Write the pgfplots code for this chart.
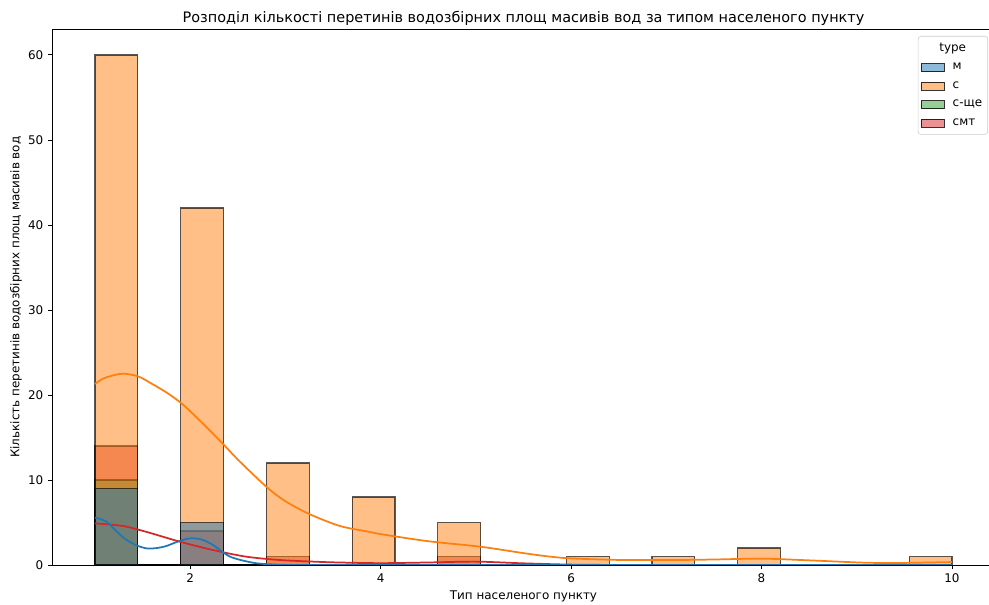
\documentclass[border=0pt]{standalone}
\usepackage{fontspec}
\setmainfont{DejaVu Sans}
\usepackage{pgfplots}
\pgfplotsset{compat=1.18}
\usepackage{pgfplotstable}

\definecolor{colM}{HTML}{1F77B4}
\definecolor{colC}{HTML}{FF7F0E}
\definecolor{colS}{HTML}{2CA02C}
\definecolor{colR}{HTML}{D62728}

% histogram bins (left edge) and counts per type; last row = right edge
\pgfplotstableread{
x c m s r
1.00 60 9 10 14
1.45 0 0 0 0
1.90 42 5 0 4
2.35 0 0 0 0
2.80 12 0 0 1
3.25 0 0 0 0
3.70 8 0 0 0
4.15 0 0 0 0
4.60 5 0 0 1
5.05 0 0 0 0
5.50 0 0 0 0
5.95 1 0 0 0
6.40 0 0 0 0
6.85 1 0 0 0
7.30 0 0 0 0
7.75 2 0 0 0
8.20 0 0 0 0
8.65 0 0 0 0
9.10 0 0 0 0
9.55 1 0 0 0
10.00 1 0 0 0
}\hist

\pgfplotstableread{
x y
1.00 21.3
1.10 22.0
1.28 22.5
1.45 22.2
1.60 21.3
1.75 20.3
1.91 19.0
2.10 17.0
2.34 14.3
2.50 12.4
2.80 9.2
3.00 7.5
3.25 6.0
3.57 4.6
3.88 3.9
4.02 3.6
4.50 2.8
5.05 2.15
5.50 1.4
5.77 1.0
6.00 0.78
6.50 0.6
7.09 0.59
7.50 0.65
8.00 0.75
8.50 0.55
9.10 0.27
9.50 0.25
10.00 0.35
}\kdec

\pgfplotstableread{
x y
1.00 5.57
1.12 5.1
1.29 3.3
1.42 2.4
1.54 1.96
1.65 2.0
1.75 2.24
1.88 2.8
2.00 3.14
2.12 3.0
2.24 2.35
2.42 0.98
2.66 0.27
2.85 0.08
3.10 0.01
4.00 0
10.00 0
}\kdem

\pgfplotstableread{
x y
1.00 4.9
1.29 4.6
1.54 3.9
1.89 2.75
2.24 1.76
2.59 0.98
2.94 0.59
3.29 0.4
3.56 0.3
4.00 0.22
4.50 0.3
5.00 0.4
5.50 0.2
6.00 0.05
6.50 0.01
7.00 0
10.00 0
}\kder

\begin{document}
\begin{tikzpicture}[font=\fontsize{8.6}{10.3}\selectfont]
\begin{axis}[
  at={(0,0)}, anchor=south west,
  scale only axis, width=678.7pt, height=385.6pt,
  xmin=0.55, xmax=10.45, ymin=0, ymax=63,
  axis on top,
  xtick={2,4,6,8,10}, ytick={0,10,...,60},
  tick pos=left, tick align=outside, major tick length=2.9pt,
  every tick/.style={black, line width=0.66pt},
  axis line style={line width=0.66pt},
  /pgf/number format/assume math mode=true,
  ticklabel style={font=\fontsize{8.6}{10.3}\selectfont},
  title={Розподіл кількості перетинів водозбірних площ масивів вод за типом населеного пункту},
  title style={at={(axis description cs:0.5,1)}, anchor=center, yshift=2pt, font=\fontsize{10.4}{12.5}\selectfont},
  xlabel={Тип населеного пункту},
  xlabel style={at={([yshift=-22.3pt]axis description cs:0.5,0)}, anchor=center},
  ylabel={Кількість перетинів водозбірних площ масивів вод},
  ylabel style={at={([xshift=-26pt]axis description cs:0,0.5)}, anchor=center},
  legend style={at={(0.9928,0.9878)}, anchor=north east, draw=black!20, rounded corners=2pt,
    font=\fontsize{8.6}{10.3}\selectfont, cells={anchor=west}, row sep=3pt, inner xsep=2pt, inner ysep=3pt},
  legend image code/.code={\draw[#1, sharp corners] (0pt,-2.9pt) rectangle (16.5pt,2.9pt); \path[draw=none, fill=none] (0pt,-0.1pt) rectangle (20.5pt,0.1pt);},
]
\addlegendimage{empty legend}\addlegendentry{\makebox[0pt][c]{type}}
\addlegendimage{fill=colM, fill opacity=0.5, draw=black, draw opacity=0.8, line width=0.7pt}\addlegendentry{м}
\addlegendimage{fill=colC, fill opacity=0.5, draw=black, draw opacity=0.8, line width=0.7pt}\addlegendentry{с}
\addlegendimage{fill=colS, fill opacity=0.5, draw=black, draw opacity=0.8, line width=0.7pt}\addlegendentry{с-ще}
\addlegendimage{fill=colR, fill opacity=0.5, draw=black, draw opacity=0.8, line width=0.7pt}\addlegendentry{смт}

\addplot[forget plot, ybar interval, fill=colR, fill opacity=0.5, draw=black, draw opacity=0.65, line width=0.8pt] table[x=x, y=r] {\hist};
\addplot[forget plot, ybar interval, fill=colS, fill opacity=0.5, draw=black, draw opacity=0.65, line width=0.8pt] table[x=x, y=s] {\hist};
\addplot[forget plot, ybar interval, fill=colC, fill opacity=0.5, draw=black, draw opacity=0.65, line width=0.8pt] table[x=x, y=c] {\hist};
\addplot[forget plot, ybar interval, fill=colM, fill opacity=0.5, draw=black, draw opacity=0.65, line width=0.8pt] table[x=x, y=m] {\hist};

\addplot[forget plot, colR, line width=1.25pt, smooth, tension=0.5] table {\kder};
\addplot[forget plot, colC, line width=1.25pt, smooth, tension=0.5] table {\kdec};
\addplot[forget plot, colM, line width=1.25pt, smooth, tension=0.5] table {\kdem};
\end{axis}
\pgfresetboundingbox
\useasboundingbox (-37.55pt,-28.08pt) rectangle (674.5pt,406.8pt);
\end{tikzpicture}
\end{document}
